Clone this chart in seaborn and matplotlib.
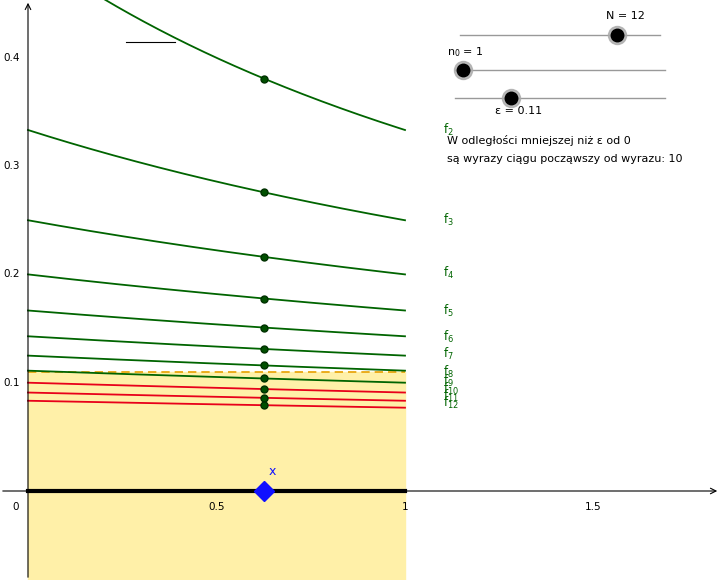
import numpy as np
import matplotlib
matplotlib.use("Agg")
import matplotlib.pyplot as plt
import seaborn as sns
import pandas as pd

ns = list(range(2, 13))
eps = 0.11
x_point = 0.626
label_y = {2:0.333,3:0.250,4:0.201,5:0.166,6:0.142,7:0.127,8:0.110,9:0.102,10:0.094,11:0.088,12:0.081}
yticks = [0.1, 0.2, 0.3, 0.4]
xticks = [0.5, 1, 1.5]

W, H = 720, 580
fig = plt.figure(figsize=(W/100, H/100), dpi=100)
ax = fig.add_axes([0, 0, 1, 1])
x0p, x1p = 28, 405
sx = (x1p - x0p)
y0p = 491; sy = 1083
ax.set_xlim(-x0p/sx, (W - x0p)/sx)
ax.set_ylim(-(H - y0p)/sy, y0p/sy)
ax.axis("off")

ax.fill_between([0, 1], [-1, -1], [eps, eps], color="#fff0a8", zorder=0)
ax.plot([0, 1], [eps, eps], ls=(0, (5, 3)), color="#e8a000", lw=1.2, zorder=1)

xs = np.linspace(0, 1, 200)
rows = []
for n in ns:
    for xv in xs:
        rows.append({"n": n, "x": xv, "y": 1/(n + xv)})
df = pd.DataFrame(rows)
for n in ns:
    col = "#e8001a" if 1/n < eps else "#006400"
    d = df[df.n == n]
    sns.lineplot(data=d, x="x", y="y", ax=ax, color=col, lw=1.3, zorder=3)
    ax.plot([x_point], [1/(n + x_point)], "o", color="#005000", ms=5, mec="#003000", zorder=4)
    ax.text(1.1, label_y[n], f"f$_{{{n}}}$", color="#006400", fontsize=8.5, va="center")

ax.annotate("", xy=(ax.get_xlim()[1], 0), xytext=(ax.get_xlim()[0], 0),
            arrowprops=dict(arrowstyle="->", color="black", lw=0.8))
ax.annotate("", xy=(0, ax.get_ylim()[1]), xytext=(0, ax.get_ylim()[0]),
            arrowprops=dict(arrowstyle="->", color="black", lw=0.8))
ax.plot([0, 1], [0, 0], color="black", lw=3, zorder=5)
ax.plot([0.26, 0.39], [0.415, 0.415], color="black", lw=0.8)
for t in yticks:
    ax.text(-0.022, t, f"{t}", ha="right", va="center", fontsize=7.5)
for t in xticks:
    ax.text(t, -0.01, f"{t}", ha="center", va="top", fontsize=7.5)
ax.text(-0.025, -0.01, "0", ha="right", va="top", fontsize=7.5)
ax.plot([x_point], [0], marker="D", color="#1010ff", ms=10, zorder=6)
ax.text(x_point + 0.012, 0.015, "x", color="#1010ff", fontsize=9)

def fx(p): return p / W
def fy(p): return 1 - p / H
for (xa, xb, yy, kx) in [(460, 660, 35, 617), (455, 665, 70, 463), (455, 665, 98, 511)]:
    fig.add_artist(plt.Line2D([fx(xa), fx(xb)], [fy(yy), fy(yy)], color="#999999", lw=1))
    fig.add_artist(plt.Line2D([fx(kx)], [fy(yy)], marker="o", ms=13, color="#aaaaaa", alpha=0.8))
    fig.add_artist(plt.Line2D([fx(kx)], [fy(yy)], marker="o", ms=9, color="black"))
fig.text(fx(606), fy(16), "N = 12", fontsize=8, va="center")
fig.text(fx(447), fy(52), "n$_0$ = 1", fontsize=8, va="center")
fig.text(fx(495), fy(111), "ε = 0.11", fontsize=8, va="center")
fig.text(fx(447), fy(141), "W odległości mniejszej niż ε od 0", fontsize=8, va="center")
fig.text(fx(447), fy(159), "są wyrazy ciągu począwszy od wyrazu: 10", fontsize=8, va="center")

fig.savefig("out.png", dpi=100)
